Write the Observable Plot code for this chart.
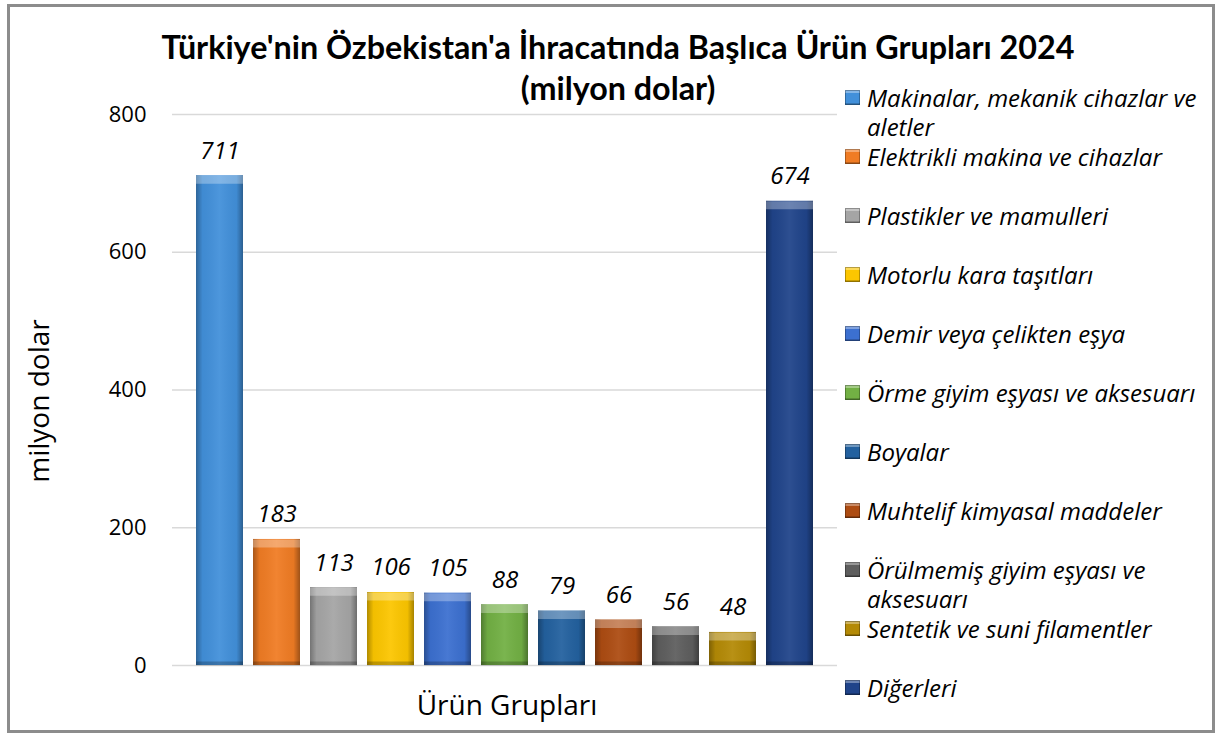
<!DOCTYPE html>
<html><head><meta charset="utf-8">
<script src="https://cdn.jsdelivr.net/npm/d3@7"></script>
<script src="https://cdn.jsdelivr.net/npm/@observablehq/plot@0.6"></script>
<style>
body{margin:0;background:#fff;}
#wrap{position:relative;width:1219px;height:733px;overflow:hidden;font-family:"Open Sans",sans-serif;color:#000;}
#frame{position:absolute;left:7px;top:4px;width:1208px;height:729px;box-sizing:border-box;border:3px solid #8c8c8c;pointer-events:none;}
#plot{position:absolute;left:0;top:0;}
#title{position:absolute;left:0;width:1236px;top:26px;text-align:center;font-family:Lato,sans-serif;font-weight:bold;line-height:41px;white-space:nowrap;}
#ylab{position:absolute;left:38px;top:401px;transform:translate(-50%,-50%) rotate(-90deg);font-size:28px;white-space:nowrap;}
#xlab{position:absolute;left:507px;top:704px;transform:translate(-50%,-50%);font-size:28px;white-space:nowrap;}
.li{position:absolute;left:845px;width:370px;font-style:italic;font-size:24px;line-height:29px;}
.li .sw{position:absolute;left:0;top:7px;width:15px;height:15px;box-shadow:inset 0 0 0 1px rgba(0,0,0,.28), inset 0 3px 0 rgba(255,255,255,.35), inset 0 -2px 0 rgba(0,0,0,.2);}
.li .tx{position:absolute;left:22px;top:0;width:345px;}
</style>
</head><body>
<div id="wrap">
  <div id="plot"></div>
  <div id="title"></div>
  <div id="ylab"></div>
  <div id="xlab"></div>
  <div id="legend"></div>
  <div id="frame"></div>
</div>
<script>
const titleLines = ["Türkiye'nin Özbekistan'a İhracatında Başlıca Ürün Grupları 2024", "(milyon dolar)"];
const yLabel = "milyon dolar";
const xLabel = "Ürün Grupları";
const categories = [
  "Makinalar, mekanik cihazlar ve aletler",
  "Elektrikli makina ve cihazlar",
  "Plastikler ve mamulleri",
  "Motorlu kara taşıtları",
  "Demir veya çelikten eşya",
  "Örme giyim eşyası ve aksesuarı",
  "Boyalar",
  "Muhtelif kimyasal maddeler",
  "Örülmemiş giyim eşyası ve aksesuarı",
  "Sentetik ve suni filamentler",
  "Diğerleri"
];
const values = [711, 183, 113, 106, 105, 88, 79, 66, 56, 48, 674];
const yTicks = [0, 200, 400, 600, 800];
const palette = ["#4290da","#f07c24","#a5a5a5","#fcc600","#3c70d0","#72b044","#23619f","#ad4c12","#5e5e5e","#b48a06","#20448a"];

const data = categories.map((c, i) => ({category: c, value: values[i]}));

// Title with fitted font size
const cv = document.createElement("canvas").getContext("2d");
let fs = 30;
cv.font = `bold ${fs}px Lato`;
fs = fs * 912 / cv.measureText(titleLines[0]).width;
const titleEl = document.getElementById("title");
titleEl.style.fontSize = fs.toFixed(1) + "px";
titleEl.innerHTML = titleLines.map(t => `<div>${t}</div>`).join("");

document.getElementById("ylab").textContent = yLabel;
document.getElementById("xlab").textContent = xLabel;

const chart = Plot.plot({
  width: 850, height: 733,
  marginLeft: 172, marginRight: 13, marginTop: 114, marginBottom: 68,
  style: {fontFamily: "Open Sans", fontSize: "22px", color: "#000", background: "transparent", overflow: "visible"},
  x: {domain: categories, axis: null, paddingInner: 0.17, paddingOuter: 0.393},
  y: {domain: [0, 800], ticks: yTicks, tickSize: 0, tickPadding: 26, label: null, tickFormat: d => String(d)},
  color: {domain: categories, range: palette},
  marks: [
    Plot.gridY(yTicks, {stroke: "#d9d9d9", strokeOpacity: 1, strokeWidth: 1.5}),
    Plot.barY(data, {x: "category", y: "value", fill: "category"}),
    Plot.barY(data, {x: "category", y: "value", fill: "url(#shadeH)"}),
    Plot.tickY(data, {x: "category", y: "value", stroke: "#fff", strokeOpacity: 0.3, strokeWidth: 8, dy: 4}),
    Plot.tickY(data, {x: "category", y: 0, stroke: "#000", strokeOpacity: 0.22, strokeWidth: 4, dy: -2}),
    Plot.text(data, {x: "category", y: "value", text: d => String(d.value), lineAnchor: "bottom", dy: -17, fontStyle: "italic", fontSize: 24, fill: "#000"})
  ]
});
const ns = "http://www.w3.org/2000/svg";
const defs = document.createElementNS(ns, "defs");
defs.innerHTML = `<linearGradient id="shadeH" x1="0" x2="1" y1="0" y2="0">
 <stop offset="0" stop-color="#000" stop-opacity="0.3"/>
 <stop offset="0.14" stop-color="#000" stop-opacity="0.04"/>
 <stop offset="0.5" stop-color="#fff" stop-opacity="0.06"/>
 <stop offset="0.86" stop-color="#000" stop-opacity="0.04"/>
 <stop offset="1" stop-color="#000" stop-opacity="0.34"/>
</linearGradient>`;
chart.insertBefore(defs, chart.firstChild);
document.getElementById("plot").appendChild(chart);

// Legend
const legend = document.getElementById("legend");
categories.forEach((c, i) => {
  const item = document.createElement("div");
  item.className = "li";
  item.style.top = (97 + 59 * i - 14.5) + "px";
  const sw = document.createElement("div");
  sw.className = "sw";
  sw.style.background = palette[i];
  const tx = document.createElement("div");
  tx.className = "tx";
  tx.textContent = c;
  item.appendChild(sw); item.appendChild(tx);
  legend.appendChild(item);
});
</script>
</body></html>
